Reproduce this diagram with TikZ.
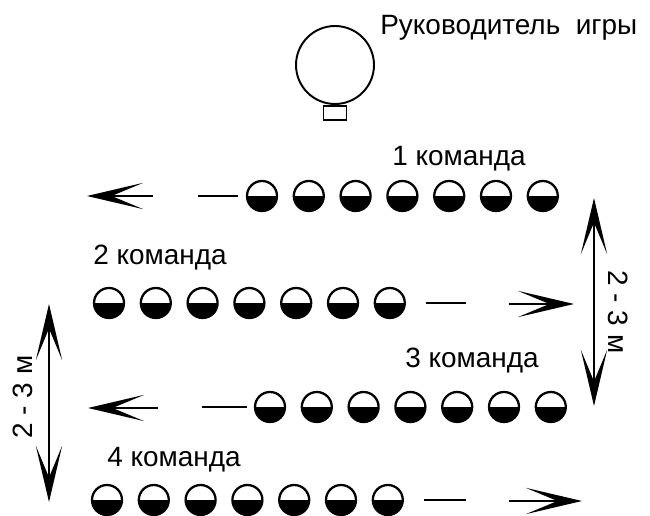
\documentclass[tikz,border=0pt]{standalone}
\usepackage{fontspec}
\setmainfont{Liberation Sans}
\usetikzlibrary{arrows.meta}

\begin{document}
\begin{tikzpicture}[x=0.02cm, y=-0.02cm,
        >={Stealth[length=16pt, width=7.5pt, inset=9pt, line width=0pt, scale=2]},
        player/.style={draw, circle, line width=1.3pt, minimum size=6mm, inner sep=0pt,
            path picture={\fill (path picture bounding box.west) rectangle (path picture bounding box.south east);}},
        lane/.style={line width=1.7pt},
        lbl/.style={font=\fontsize{15.9}{19}\selectfont, inner sep=0pt}]
        \useasboundingbox (0,0) rectangle (650,516);

        % leader
        \node[draw, circle, line width=1.1pt, minimum size=15.6mm] at (335,65) (lead) {};
        \node[draw, rectangle, line width=1.1pt, minimum width=4.6mm, minimum height=2.8mm, anchor=north] at (lead.south) (stand) {};
        \node[lbl, anchor=base west] at (380,35) (leadtxt) {Руководитель\ \ игры};

        % teams
        \foreach \r/\x/\y in {1/262/196, 2/109/303, 3/270/407, 4/107/500}
            \foreach \i in {1,...,7}
                \node[player] at ({\x+(\i-1)*46.8},\y) (p\r-\i) {};

        \node[lbl, anchor=base west] at (392,166) (t1) {1 команда};
        \node[lbl, anchor=base west] at (93,265) (t2) {2 команда};
        \node[lbl, anchor=base west] at (405,368) (t3) {3 команда};
        \node[lbl, anchor=base west] at (107,467) (t4) {4 команда};

        % dashes and run directions
        \coordinate (d1) at (198,196);
        \coordinate (d2) at (466,303);
        \coordinate (d3) at (202,407);
        \coordinate (d4) at (466,500);
        \draw [lane, shorten >=1.6mm] (d1) -- (p1-1);
        \draw [lane, shorten <=4mm] (p2-7) -- (d2);
        \draw [lane, shorten >=1.4mm] (d3) -- (p3-1);
        \draw [lane, shorten <=4mm] (p4-7) -- (d4);

        \coordinate (a1s) at (153,196);
        \coordinate (a1e) at (87,196);
        \coordinate (a2s) at (509,304);
        \coordinate (a2e) at (574,304);
        \coordinate (a3s) at (158,408);
        \coordinate (a3e) at (88,408);
        \coordinate (a4s) at (509,501);
        \coordinate (a4e) at (582,501);
        \draw [lane, ->] (a1s) -- (a1e);
        \draw [lane, ->] (a2s) -- (a2e);
        \draw [lane, ->] (a3s) -- (a3e);
        \draw [lane, ->] (a4s) -- (a4e);

        % distances
        \coordinate (g1t) at (594,198);
        \coordinate (g1b) at (594,406);
        \coordinate (g2t) at (49,304);
        \coordinate (g2b) at (49,502);
        \draw [lane, <->] (g1t) -- (g1b);
        \draw [lane, <->] (g2t) -- (g2b);
        \node[lbl, rotate=-90] at (618,312) (m1) {2 - 3 м};
        \node[lbl, rotate=90] at (23,397) (m2) {2 - 3 м};
    \end{tikzpicture}
\end{document}
